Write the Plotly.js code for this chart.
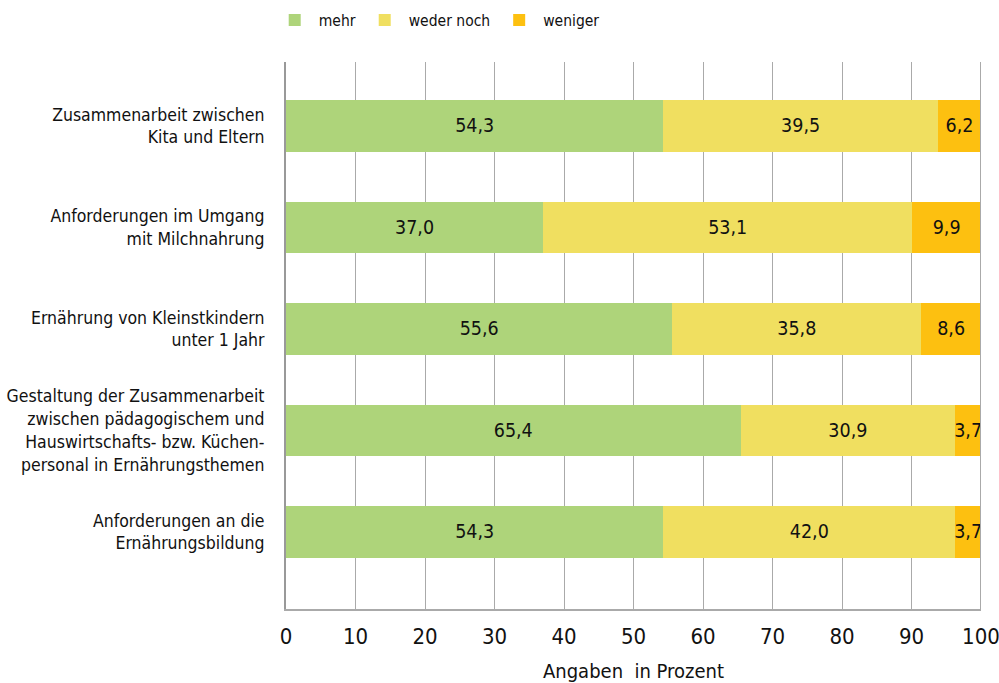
<!DOCTYPE html>
<html><head><meta charset="utf-8">
<script src="https://cdn.plot.ly/plotly-3.0.1.min.js"></script>
<style>body{margin:0;background:#fff}#c{width:999px;height:683px}</style>
</head><body><div id="c"></div>
<script>
const categories = [
  "Zusammenarbeit zwischen<br>Kita und Eltern",
  "Anforderungen im Umgang<br>mit Milchnahrung",
  "Ernährung von Kleinstkindern<br>unter 1 Jahr",
  "Gestaltung der Zusammenarbeit<br>zwischen pädagogischem und<br>Hauswirtschafts- bzw. Küchen-<br>personal in Ernährungsthemen",
  "Anforderungen an die<br>Ernährungsbildung"
];
const mehr = [54.3, 37.0, 55.6, 65.4, 54.3];
const wederNoch = [39.5, 53.1, 35.8, 30.9, 42.0];
const weniger = [6.2, 9.9, 8.6, 3.7, 3.7];
const seriesNames = ["mehr", "weder noch", "weniger"];
const colors = ["#AED47A", "#F0DF60", "#FDC010"];
const font = "'DejaVu Sans Condensed', 'Liberation Sans Narrow', sans-serif";

const traces = [mehr, wederNoch, weniger].map((vals, i) => ({
  type: "bar", orientation: "h", name: seriesNames[i],
  x: vals, y: categories, width: 0.51,
  marker: {color: colors[i], line: {width: 0}},
  texttemplate: "%{x:.1f}", textposition: "inside", insidetextanchor: "middle",
  constraintext: "none", textangle: 0,
  textfont: {family: font, size: 19.5, color: "#111"},
  hoverinfo: "x+name"
}));

Plotly.newPlot("c", traces, {
  barmode: "stack", separators: ",.",
  width: 999, height: 683,
  margin: {l: 286, r: 18, t: 62, b: 74},
  paper_bgcolor: "#fff", plot_bgcolor: "#fff",
  font: {family: font, color: "#111"},
  showlegend: true,
  legend: {orientation: "h", x: -0.022, xanchor: "left", y: 0.995, yref: "container", yanchor: "top",
           font: {family: font, size: 15.5, color: "#111"}, traceorder: "normal", itemwidth: 38},
  xaxis: {range: [0, 100.0001], tickvals: [0,10,20,30,40,50,60,70,80,90,100],
          ticklabeloverflow: "allow",
          showgrid: true, gridcolor: "#aaaaaa", gridwidth: 1,
          zeroline: false, showline: true, linecolor: "#aaaaaa", linewidth: 2, mirror: false,
          ticks: "", ticklabelstandoff: 7,
          tickfont: {family: font, size: 22, color: "#111"},
          title: {text: "Angaben  in Prozent", font: {family: font, size: 20, color: "#111"}, standoff: 16}},
  yaxis: {type: "category", range: [4.76, -0.63], showgrid: false, zeroline: false,
          showline: true, linecolor: "#999999", linewidth: 2, ticks: "", ticklabelstandoff: 16,
          tickfont: {family: font, size: 17.5, color: "#111"}},
  shapes: [{type: "line", xref: "x", yref: "paper", x0: 100, x1: 100, y0: 0, y1: 1,
            line: {color: "#aaaaaa", width: 2}}]
}, {displayModeBar: false, staticPlot: true});
</script></body></html>
